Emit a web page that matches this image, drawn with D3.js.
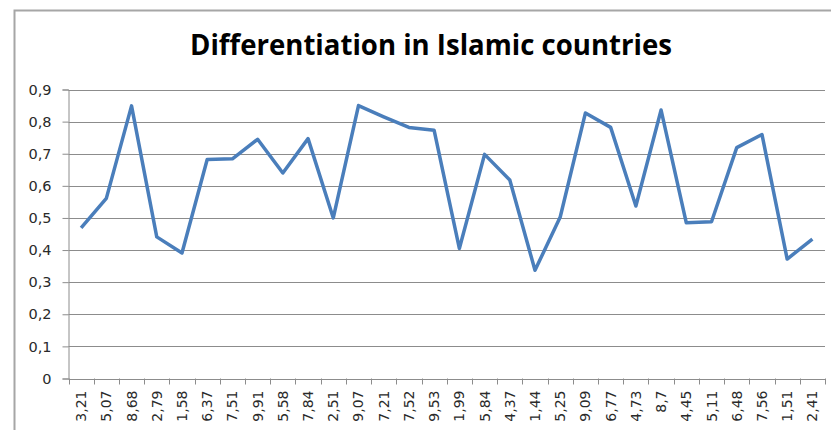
<!DOCTYPE html>
<html>
<head>
<meta charset="utf-8">
<script src="https://cdn.jsdelivr.net/npm/d3@7"></script>
<style>
	body { margin: 0; background: #fff; }
	svg { display: block; }
</style>
</head>
<body>
<div id="chart"></div>
<script>
// values
const titleText = "Differentiation in Islamic countries";
const categories = [
	"3,21", "5,07", "8,68", "2,79", "1,58", "6,37", "7,51", "9,91", "5,58", "7,84",
	"2,51", "9,07", "7,21", "7,52", "9,53", "1,99", "5,84", "4,37", "1,44", "5,25",
	"9,09", "6,77", "4,73", "8,7", "4,45", "5,11", "6,48", "7,56", "1,51", "2,41",
];
const values = [
	0.469, 0.561, 0.849, 0.441, 0.391, 0.682, 0.684, 0.745, 0.640, 0.747,
	0.500, 0.850, 0.815, 0.782, 0.773, 0.405, 0.698, 0.618, 0.337, 0.503,
	0.827, 0.782, 0.537, 0.836, 0.485, 0.488, 0.719, 0.760, 0.372, 0.434,
];
const yTicks = [0, 0.1, 0.2, 0.3, 0.4, 0.5, 0.6, 0.7, 0.8, 0.9];

const size = { w: 831, h: 430 };
const margin = { t: 89.5, r: 6, b: 51.5, l: 68.5 };

const svg = d3
	.select("#chart")
	.append("svg")
	.attr("width", size.w)
	.attr("height", size.h);

// outer chart frame (only top and left edges are visible in the crop)
svg.append("path")
	.attr("d", `M14.5,${size.h + 2}V10.5H${size.w + 2}`)
	.attr("fill", "none")
	.attr("stroke", "#a6a6a6")
	.attr("stroke-width", 2);

svg.append("text")
	.attr("x", 431)
	.attr("y", 55)
	.attr("text-anchor", "middle")
	.attr("font-family", "'Open Sans', sans-serif")
	.attr("font-weight", "bold")
	.attr("font-size", 28)
	.attr("textLength", 482)
	.attr("lengthAdjust", "spacingAndGlyphs")
	.attr("fill", "#000")
	.text(titleText);

const x = d3
	.scaleBand()
	.domain(categories.map((d, i) => i))
	.range([margin.l, size.w - margin.r]);
const y = d3
	.scaleLinear()
	.domain([0, 0.9])
	.range([size.h - margin.b, margin.t]);

const fmt = (d) => (d === 0 ? "0" : d3.format(".1f")(d).replace(".", ","));

// gridlines
svg.append("g")
	.selectAll("line")
	.data(yTicks.filter((d) => d > 0))
	.join("line")
	.attr("x1", margin.l)
	.attr("x2", size.w - margin.r)
	.attr("y1", (d) => Math.round(y(d)) + 0.5)
	.attr("y2", (d) => Math.round(y(d)) + 0.5)
	.attr("stroke", "#8c8c8c")
	.attr("stroke-width", 1);

// y axis
const yAxis = svg
	.append("g")
	.attr("transform", `translate(${margin.l},0)`)
	.call(d3.axisLeft(y).tickValues(yTicks).tickFormat(fmt).tickSize(6).tickPadding(11));
yAxis.select(".domain").attr("stroke", "#8c8c8c");
yAxis.selectAll(".tick line").attr("stroke", "#8c8c8c");
yAxis
	.selectAll(".tick text")
	.attr("font-family", "'DejaVu Sans', sans-serif")
	.attr("font-size", 14.5)
	.attr("fill", "#2a2a2a");

// x axis: ticks sit on the band edges, labels at the band centres
const x0 = y(0);
const xAxisG = svg.append("g");
xAxisG.append("line")
	.attr("x1", margin.l)
	.attr("x2", size.w - margin.r)
	.attr("y1", Math.round(x0) + 0.5)
	.attr("y2", Math.round(x0) + 0.5)
	.attr("stroke", "#8c8c8c");
xAxisG
	.selectAll(".xtick")
	.data(d3.range(categories.length + 1))
	.join("line")
	.attr("class", "xtick")
	.attr("x1", (i) => Math.round(margin.l + i * x.step()) + 0.5)
	.attr("x2", (i) => Math.round(margin.l + i * x.step()) + 0.5)
	.attr("y1", x0)
	.attr("y2", x0 + 6)
	.attr("stroke", "#8c8c8c");
xAxisG
	.selectAll("text")
	.data(categories)
	.join("text")
	.attr("transform", (d, i) => `translate(${x(i) + x.bandwidth() / 2 + 5},${x0 + 12}) rotate(-90)`)
	.attr("text-anchor", "end")
	.attr("font-family", "'DejaVu Sans', sans-serif")
	.attr("font-size", 14)
	.attr("fill", "#2a2a2a")
	.text((d) => d);

// series line
const line = d3
	.line()
	.x((d, i) => x(i) + x.bandwidth() / 2)
	.y((d) => y(d));

svg.append("path")
	.datum(values)
	.attr("d", line)
	.attr("fill", "none")
	.attr("stroke", "#4a7ebb")
	.attr("stroke-width", 3.5)
	.attr("stroke-linejoin", "round");
</script>
</body>
</html>
